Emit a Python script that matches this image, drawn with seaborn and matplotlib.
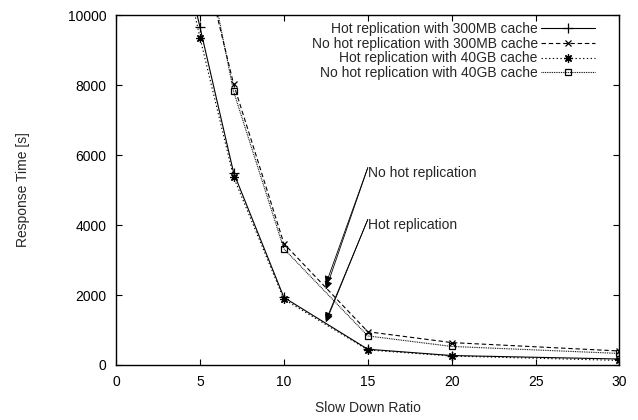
import numpy as np
import pandas as pd
import matplotlib
matplotlib.use("Agg")
import matplotlib.pyplot as plt
import seaborn as sns

# slow down ratio (x) and response times [s]
ratio = [4, 5, 7, 10, 15, 20, 30]
hot_300mb = [11700, 9650, 5500, 1930, 450, 270, 170]
nohot_300mb = [16000, 12000, 8030, 3470, 950, 640, 400]
hot_40gb = [11500, 9350, 5370, 1880, 430, 255, 130]
nohot_40gb = [17000, 12600, 7820, 3320, 830, 530, 330]

labels = ["Hot replication with 300MB cache",
          "No hot replication with 300MB cache",
          "Hot replication with 40GB cache",
          "No hot replication with 40GB cache"]

# annotation text positions and arrow targets (data coords)
note_nohot = (15.0, 5640)
note_nohot_tips = [(12.5, 2310), (12.5, 2160)]
note_hot = (15.0, 4160)
note_hot_tips = [(12.5, 1270), (12.5, 1220)]

df = pd.concat([
    pd.DataFrame({"ratio": ratio, "time": vals, "series": lab})
    for vals, lab in zip([hot_300mb, nohot_300mb, hot_40gb, nohot_40gb], labels)
])

sns.set_style("ticks")
plt.rcParams["font.family"] = ["Liberation Sans", "DejaVu Sans"]
plt.rcParams["xtick.direction"] = "in"
plt.rcParams["ytick.direction"] = "in"

fig = plt.figure(figsize=(6.38, 4.2), dpi=100)
ax = fig.add_axes([0.182, 0.131, 0.789, 0.833])

styles = [
    dict(marker="+", linestyle="-", markersize=7, mew=0.9),
    dict(marker="x", linestyle=(0, (4, 2.5)), markersize=5, mew=0.9),
    dict(marker=(8, 2, 0), linestyle=(0, (1.2, 2.2)), markersize=6, mew=0.9),
    dict(marker="s", linestyle=(0, (0.8, 0.8)), markersize=5, mew=0.9,
         markerfacecolor="none"),
]

for lab, st in zip(labels, styles):
    sub = df[df["series"] == lab]
    sns.lineplot(data=sub, x="ratio", y="time", ax=ax, color="black",
                 linewidth=0.8, label=lab, markeredgecolor="black", **st)

ax.set_xlim(0, 30)
ax.set_ylim(0, 10000)
ax.set_xticks(range(0, 31, 5))
ax.set_yticks(range(0, 10001, 2000))
ax.tick_params(top=True, right=True, length=4, width=0.8, labelsize=10,
               colors="black", pad=7)
for sp in ax.spines.values():
    sp.set_visible(True)
    sp.set_linewidth(1.0)
    sp.set_color("black")

ax.set_xlabel("Slow Down Ratio", fontsize=10, labelpad=9)
ax.set_ylabel("Response Time [s]", fontsize=10, labelpad=27)

arrow = dict(arrowstyle="-|>", color="black", lw=0.6, mutation_scale=12,
             shrinkA=0, shrinkB=0)
for tip in note_nohot_tips:
    ax.annotate("", xy=tip, xytext=note_nohot, arrowprops=arrow)
for tip in note_hot_tips:
    ax.annotate("", xy=tip, xytext=note_hot, arrowprops=arrow)
ax.text(note_nohot[0], note_nohot[1] - 150, "No hot replication", fontsize=10,
        va="center", ha="left")
ax.text(note_hot[0], note_hot[1] - 150, "Hot replication", fontsize=10,
        va="center", ha="left")

leg = ax.legend(loc="upper right", frameon=False, markerfirst=False,
                fontsize=10, handlelength=3.9, labelspacing=0.05,
                borderaxespad=0.1, bbox_to_anchor=(0.966, 1.0),
                handletextpad=0.25)

fig.savefig("out.png", dpi=100)
